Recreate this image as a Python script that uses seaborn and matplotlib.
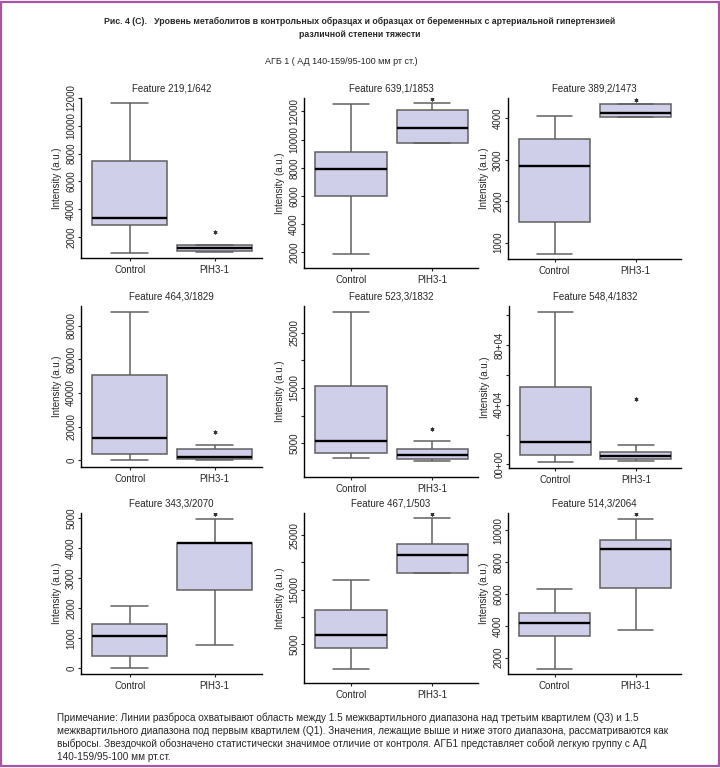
import numpy as np
import pandas as pd
import seaborn as sns
import matplotlib.pyplot as plt
from matplotlib.patches import Rectangle

# ---- data ---------------------------------------------------------------
features = ["Feature 219,1/642", "Feature 639,1/1853", "Feature 389,2/1473",
            "Feature 464,3/1829", "Feature 523,3/1832", "Feature 548,4/1832",
            "Feature 343,3/2070", "Feature 467,1/503", "Feature 514,3/2064"]
groups = ["Control", "PIH3-1"]

# five-number summaries: whisker low, Q1, median, Q3, whisker high
control_stats = [
    [860, 2860, 3350, 7480, 11650],
    [1880, 6000, 7950, 9130, 12490],
    [720, 1500, 2860, 3490, 4050],
    [300, 3700, 13400, 50600, 87900],
    [2300, 3300, 5400, 15400, 28800],
    [1800, 6300, 15200, 51900, 102000],
    [0, 400, 1070, 1480, 2060],
    [400, 4200, 6650, 11200, 16700],
    [1310, 3340, 4150, 4820, 6340],
]
pih_stats = [
    [930, 1020, 1210, 1450, 1450],
    [9790, 9790, 10820, 12120, 12610],
    [4040, 4040, 4130, 4340, 4340],
    [100, 600, 2000, 6900, 9300],
    [1750, 2100, 2800, 3900, 5400],
    [2200, 3800, 5800, 8300, 12750],
    [780, 2600, 4160, 4170, 4960],
    [18000, 18000, 21450, 23350, 28200],
    [3750, 6400, 8850, 9390, 10700],
]
# significance asterisk above the PIH3-1 group
star_y = [2350, 12890, 4430, 16900, 7600, 43800, 5140, 28980, 11000]

y_ticks = [
    [2000, 4000, 6000, 8000, 10000, 12000],
    [2000, 4000, 6000, 8000, 10000, 12000],
    [1000, 2000, 3000, 4000],
    [0, 20000, 40000, 60000, 80000],
    [5000, 10000, 15000, 20000, 25000],
    [0, 20000, 40000, 60000, 80000, 100000],
    [0, 1000, 2000, 3000, 4000, 5000],
    [5000, 10000, 15000, 20000, 25000],
    [2000, 4000, 6000, 8000, 10000],
]
y_ticklabels = [
    ["2000", "4000", "6000", "8000", "10000", "12000"],
    ["2000", "4000", "6000", "8000", "10000", "12000"],
    ["1000", "2000", "3000", "4000"],
    ["0", "20000", "40000", "60000", "80000"],
    ["5000", "", "15000", "", "25000"],
    ["00+00", "", "40+04", "", "80+04", ""],
    ["0", "1000", "2000", "3000", "4000", "5000"],
    ["5000", "", "15000", "", "25000"],
    ["2000", "4000", "6000", "8000", "10000"],
]
y_limits = [(480, 12000), (900, 12950), (607, 4489),
            (-3940, 91600), (-1100, 29800), (-2460, 106260),
            (-188, 5166), (-2200, 29100), (977, 11081)]

title = ("Рис. 4 (С).   Уровень метаболитов в контрольных образцах и образцах "
         "от беременных с артериальной гипертензией\nразличной степени тяжести")
subtitle = "АГБ 1 ( АД 140-159/95-100 мм рт ст.)"
note_lines = [
    "Примечание: Линии разброса охватывают область между 1.5 межквартильного "
    "диапазона над третьим квартилем (Q3) и 1.5",
    "межквартильного диапазона под первым квартилем (Q1). Значения, лежащие "
    "выше и ниже этого диапазона, рассматриваются как",
    "выбросы. Звездочкой обозначено статистически значимое отличие от контроля. "
    "АГБ1 представляет собой легкую группу с АД",
    "140-159/95-100 мм рт.ст.",
]

# ---- layout (pixels: left, right, top, bottom of each plot region) -------
panel_px = [(81, 262, 98, 258), (304, 478, 98, 268), (508, 681, 98, 259),
            (81, 262, 306, 467), (304, 478, 306, 477), (509, 681, 306, 468),
            (81, 262, 513, 674), (304, 478, 513, 683), (508, 681, 513, 674)]
W, H = 720, 768

sns.set_style("ticks")
plt.rcParams["font.family"] = ["Liberation Sans", "DejaVu Sans"]

box_fill = "#d0cfe9"
edge_grey = "#606060"

fig = plt.figure(figsize=(W / 100, H / 100), dpi=100)

for i, feat in enumerate(features):
    l, r, t, b = panel_px[i]
    ax = fig.add_axes([l / W, 1 - b / H, (r - l) / W, (b - t) / H])
    df = pd.DataFrame({
        "group": [groups[0]] * 5 + [groups[1]] * 5,
        "value": control_stats[i] + pih_stats[i],
    })
    sns.boxplot(data=df, x="group", y="value", order=groups, ax=ax,
                color=box_fill, saturation=1, width=0.88, whis=(0, 100),
                linecolor=edge_grey, linewidth=1.1, showfliers=False,
                medianprops=dict(color="black", linewidth=1.7))
    ax.scatter([1], [star_y[i]], marker=(6, 2, 0), s=5, color="#333333",
               linewidths=0.7, zorder=5)
    ax.set_xlim(-0.575, 1.56)
    ax.set_ylim(*y_limits[i])
    ax.set_yticks(y_ticks[i])
    ax.set_yticklabels(y_ticklabels[i], rotation=90, va="center")
    ax.set_xlabel("")
    ax.set_ylabel("Intensity (a.u.)", fontsize=7, labelpad=3)
    ax.set_title(feat, fontsize=7, pad=5)
    ax.tick_params(axis="y", labelsize=7, length=2.5, width=0.8, pad=1)
    ax.tick_params(axis="x", labelsize=7, length=2.5, width=0.8, pad=2.5)
    for side in ["top", "right"]:
        ax.spines[side].set_visible(False)
    for side in ["left", "bottom"]:
        ax.spines[side].set_linewidth(1.0)
        ax.spines[side].set_color("black")

fig.text(360 / W, 1 - 28 / H, title, ha="center", va="center", fontsize=6.3,
         fontweight="bold", linespacing=1.5)
fig.text(341 / W, 1 - 61 / H, subtitle, ha="center", va="center", fontsize=6.5)
for k, line in enumerate(note_lines):
    fig.text(57 / W, 1 - (718 + 13 * k) / H, line, ha="left", va="center",
             fontsize=7.2)

fig.patches.append(Rectangle((0.002, 0.003), 0.996, 0.994, transform=fig.transFigure,
                             fill=False, edgecolor="#a955a4", linewidth=1.6))

fig.savefig("out.png", dpi=100)
